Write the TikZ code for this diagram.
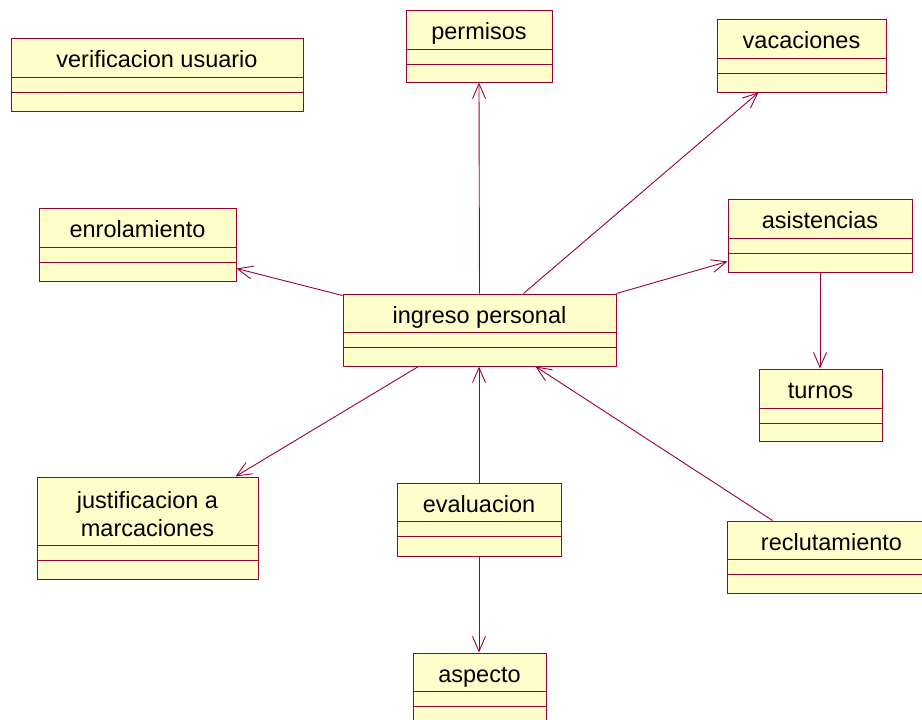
\documentclass[tikz,border=0pt]{standalone}
\usepackage{fontspec}
\setmainfont{Liberation Sans}
\usetikzlibrary{arrows.meta,fit}
\definecolor{classborder}{RGB}{153,0,51}
\definecolor{classfill}{RGB}{255,255,204}

% \umlclass{name}{left}{top}{right}{bottom}{name compartment height}{label offset}{label}
\newcommand{\umlclass}[8]{%
  \node[classframe, fit={(#2,#3) (#4,#5)}] (#1) {};
  \draw[classline] ([yshift=-#6pt]#1.north west) -- ([yshift=-#6pt]#1.north east);
  \draw[classline] ([yshift=-#6pt-15pt]#1.north west) -- ([yshift=-#6pt-15pt]#1.north east);
  \node[classlabel] (#1-label) at ([yshift=-#7pt]#1.north) {#8};
}

\begin{document}
\begin{tikzpicture}[x=1pt,y=-1pt,
  classframe/.style={draw=classborder, fill=classfill, line width=1pt, inner sep=0pt},
  classline/.style={draw=classborder, line width=1pt},
  classlabel/.style={font=\fontsize{23.5}{28}\selectfont, inner sep=0pt,
    text height=17pt, text depth=5pt, align=center},
  assoc/.style={draw=classborder, line width=0.9pt,
    -{Straight Barb[length=15pt,width=13pt,line width=0.9pt]}},
]
\useasboundingbox (0,0) rectangle (922,720);

% classes
\umlclass{verificacion}{11}{38}{303}{111}{39.5}{24}{verificacion usuario}
\umlclass{permisos}{406}{10}{552}{82}{39.5}{24}{permisos}
\umlclass{vacaciones}{717}{19}{886}{92}{39.5}{24}{vacaciones}
\umlclass{enrolamiento}{39}{208}{236}{281}{39.5}{24}{enrolamiento}
\umlclass{asistencias}{728}{199}{912}{272}{39.5}{24}{asistencias}
\umlclass{ingreso}{343}{294}{616}{366}{39}{24}{ingreso personal}
\umlclass{turnos}{759}{369}{882}{441}{39.5}{24}{turnos}
\umlclass{evaluacion}{397}{483}{561}{556}{39}{24}{evaluacion}
\umlclass{reclutamiento}{727}{521}{936}{593}{39}{24}{reclutamiento}
\umlclass{aspecto}{413}{653}{546}{725}{39}{24}{aspecto}

% two-line class
\node[classframe, fit={(37,477) (258,579)}] (justificacion) {};
\draw[classline] ([yshift=-69pt]justificacion.north west) -- ([yshift=-69pt]justificacion.north east);
\draw[classline] ([yshift=-84pt]justificacion.north west) -- ([yshift=-84pt]justificacion.north east);
\node[classlabel, text height=, text depth=] (justificacion-label)
  at ([yshift=-37.5pt]justificacion.north) {justificacion a\\marcaciones};

% associations
\draw[assoc] (ingreso.north) -- (permisos.south);
\draw[assoc] ([xshift=181pt]ingreso.north west) -- ([xshift=42pt]vacaciones.south west);
\draw[assoc] ([yshift=-2pt]ingreso.north west) -- ([yshift=13pt]enrolamiento.south east);
\draw[assoc] (ingreso.north east) -- ([yshift=11pt]asistencias.south west);
\draw[assoc] (asistencias.south) -- (asistencias.south |- turnos.north);
\draw[assoc] ([xshift=76pt]ingreso.south west) -- ([xshift=-23pt]justificacion.north east);
\draw[assoc] (evaluacion.north) -- (evaluacion.north |- ingreso.south);
\draw[assoc] ([xshift=46pt]reclutamiento.north west) -- ([xshift=193pt]ingreso.south west);
\draw[assoc] (evaluacion.south) -- (evaluacion.south |- aspecto.north);
\end{tikzpicture}
\end{document}
